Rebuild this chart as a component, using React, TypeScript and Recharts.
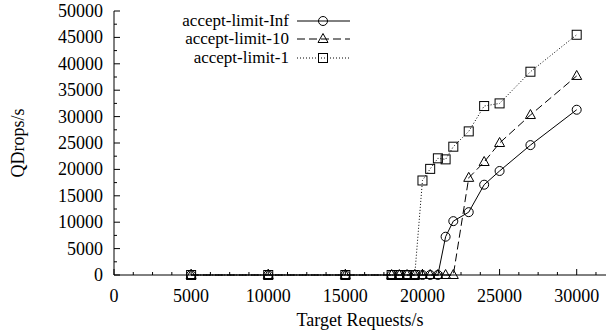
import React from 'react';
import { LineChart, Line, XAxis, YAxis, Legend } from 'recharts';

const FONT = '"Liberation Serif", "DejaVu Serif", serif';

// target request rates (x) and measured qdrops for each accept limit
const targets = [5000, 10000, 15000, 18000, 18500, 19000, 19500, 20000, 20500, 21000, 21500, 22000, 23000, 24000, 25000, 27000, 30000];
const limitInf = [0, 0, 0, 0, 0, 0, 0, 0, 0, 0, 7250, 10200, 11900, 17100, 19700, 24600, 31300];
const limit10 = [0, 0, 0, 0, 0, 0, 0, 0, 0, 0, 0, 0, 18400, 21400, 25000, 30300, 37700];
const limit1 = [0, 0, 0, 0, 0, 0, 0, 17900, 20100, 22100, 21900, 24300, 27200, 32000, 32500, 38500, 45500];

const seriesKeys = ['inf', 'l10', 'l1'];

const xMajor = [0, 5000, 10000, 15000, 20000, 25000, 30000];
const xTicks = [0, 1250, 2500, 3750, 5000, 6250, 7500, 8750, 10000, 11250, 12500, 13750, 15000, 16250, 17500, 18750, 20000, 21250, 22500, 23750, 25000, 26250, 27500, 28750, 30000, 31250];
const yMajor = [0, 5000, 10000, 15000, 20000, 25000, 30000, 35000, 40000, 45000, 50000];
const yTicks = [0, 2500, 5000, 7500, 10000, 12500, 15000, 17500, 20000, 22500, 25000, 27500, 30000, 32500, 35000, 37500, 40000, 42500, 45000, 47500, 50000];

const data = targets.map((t, i) => ({ t, inf: limitInf[i], l10: limit10[i], l1: limit1[i] }));

const seriesStyle: Record<string, { dash?: string; mark: string }> = {
  inf: { mark: 'circle' },
  l10: { dash: '8 4', mark: 'triangle' },
  l1: { dash: '1 2', mark: 'square' },
};

const Marker = ({ kind, cx, cy }: { kind: string; cx: number; cy: number }) => {
  if (kind === 'circle') return <circle cx={cx} cy={cy} r={4.5} fill="none" stroke="#000" strokeWidth={1} />;
  if (kind === 'triangle')
    return <path d={`M${cx},${cy - 5.5}L${cx + 5},${cy + 3.5}L${cx - 5},${cy + 3.5}Z`} fill="none" stroke="#000" strokeWidth={1} />;
  return <rect x={cx - 4.5} y={cy - 4.5} width={9} height={9} fill="none" stroke="#000" strokeWidth={1} />;
};

const dotFor = (kind: string) => (p: any) => <Marker key={`${kind}-${p.index}`} kind={kind} cx={p.cx} cy={p.cy} />;

const BottomTick = (props: any) => {
  const { x, y, payload } = props;
  const major = xMajor.includes(payload.value);
  return (
    <g>
      <line x1={x} y1={y} x2={x} y2={y - (major ? 6 : 3)} stroke="#000" />
      {major && (
        <text x={x} y={y + 26.5} textAnchor="middle" fontSize={18} fontFamily={FONT} fill="#000">
          {payload.value}
        </text>
      )}
    </g>
  );
};

const TopTick = (props: any) => {
  const { x, y, payload } = props;
  const major = xMajor.includes(payload.value);
  return <line x1={x} y1={y} x2={x} y2={y + (major ? 6 : 3)} stroke="#000" />;
};

const LeftTick = (props: any) => {
  const { x, y, payload } = props;
  const major = yMajor.includes(payload.value);
  return (
    <g>
      <line x1={x} y1={y} x2={x + (major ? 6 : 3)} y2={y} stroke="#000" />
      {major && (
        <text x={x - 11} y={y + 6} textAnchor="end" fontSize={18} fontFamily={FONT} fill="#000">
          {payload.value}
        </text>
      )}
    </g>
  );
};

const RightTick = (props: any) => {
  const { x, y, payload } = props;
  const major = yMajor.includes(payload.value);
  return <line x1={x} y1={y} x2={x - (major ? 6 : 3)} y2={y} stroke="#000" />;
};

const LegendBox = (props: any) => {
  const payload: any[] = props.payload || [];
  const ordered = seriesKeys.map((k) => payload.find((e) => e.dataKey === k)).filter(Boolean);
  return (
    <div style={{ fontFamily: FONT, fontSize: 17, color: '#000', lineHeight: '18px' }}>
      {ordered.map((entry: any) => {
        const st = seriesStyle[entry.dataKey];
        return (
          <div key={entry.dataKey} style={{ display: 'flex', alignItems: 'center', height: 18.3, overflow: 'visible' }}>
            <span style={{ width: 150, textAlign: 'right', whiteSpace: 'nowrap' }}>{entry.value}</span>
            <svg width={56} height={18} style={{ marginLeft: 8, display: 'block', overflow: 'visible' }}>
              <line x1={0} y1={9} x2={53} y2={9} stroke="#000" strokeDasharray={st.dash} />
              <Marker kind={st.mark} cx={26} cy={9} />
            </svg>
          </div>
        );
      })}
    </div>
  );
};

export default function App() {
  return (
    <div style={{ position: 'absolute', left: 0, top: 0, background: '#fff' }}>
      <LineChart width={611} height={333} data={data} margin={{ top: 11, right: 5, bottom: 0, left: 0 }}>
        <XAxis
          dataKey="t"
          type="number"
          domain={[0, 31900]}
          ticks={xTicks}
          interval={0}
          tick={<BottomTick />}
          tickSize={0}
          tickMargin={0}
          tickLine={false}
          height={58}
          stroke="#000"
          label={{ value: 'Target Requests/s', position: 'insideBottom', offset: 7, fontSize: 18, fontFamily: FONT, fill: '#000' }}
        />
        <XAxis
          xAxisId="top"
          orientation="top"
          dataKey="t"
          type="number"
          domain={[0, 31900]}
          ticks={xTicks}
          interval={0}
          tick={<TopTick />}
          tickSize={0}
          tickMargin={0}
          tickLine={false}
          height={0}
          stroke="#000"
        />
        <YAxis
          type="number"
          domain={[0, 50000]}
          ticks={yTicks}
          interval={0}
          tick={<LeftTick />}
          tickSize={0}
          tickMargin={0}
          tickLine={false}
          width={114}
          stroke="#000"
          label={{ value: 'QDrops/s', angle: -90, position: 'insideLeft', offset: 18, style: { textAnchor: 'middle' }, fontSize: 18, fontFamily: FONT, fill: '#000' }}
        />
        <YAxis
          yAxisId="right"
          orientation="right"
          type="number"
          domain={[0, 50000]}
          ticks={yTicks}
          interval={0}
          tick={<RightTick />}
          tickSize={0}
          tickMargin={0}
          tickLine={false}
          width={0}
          stroke="#000"
        />
        <Legend
          layout="vertical"
          align="center"
          verticalAlign="middle"
          content={<LegendBox />}
          wrapperStyle={{ top: 12, left: 139 }}
        />
        <Line dataKey="inf" name="accept-limit-Inf" stroke="#000" strokeWidth={1} dot={dotFor('circle')} isAnimationActive={false} />
        <Line dataKey="l10" name="accept-limit-10" stroke="#000" strokeWidth={1} strokeDasharray="8 4" dot={dotFor('triangle')} isAnimationActive={false} />
        <Line dataKey="l1" name="accept-limit-1" stroke="#000" strokeWidth={1} strokeDasharray="1 2" dot={dotFor('square')} isAnimationActive={false} />
      </LineChart>
    </div>
  );
}
